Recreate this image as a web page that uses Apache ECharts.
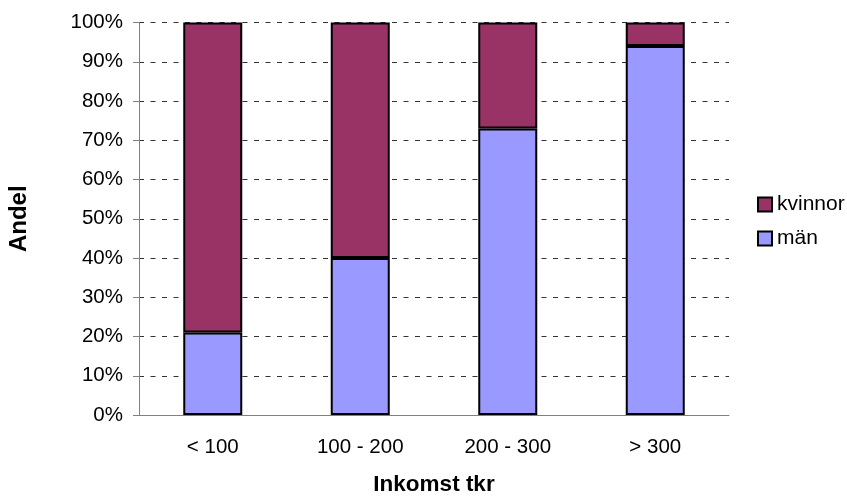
<!DOCTYPE html>
<html>
<head>
<meta charset="utf-8">
<script src="https://cdn.jsdelivr.net/npm/echarts@6/dist/echarts.min.js"></script>
<style>
  html, body { margin: 0; padding: 0; background: #fff; }
  #chart { width: 847px; height: 496px; }
</style>
</head>
<body>
<div id="chart"></div>
<script>
// Income bands (thousand SEK) and share of men / women in each band (%)
const categories = ['< 100', '100 - 200', '200 - 300', '> 300'];
const man = [21, 40, 73, 94];
const kvinnor = [79, 60, 27, 6];
const yTicks = [0, 100, 10]; // min, max, step

const FONT = 'Liberation Sans, Arial, sans-serif';
const chart = echarts.init(document.getElementById('chart'));

chart.setOption({
  animation: false,
  backgroundColor: '#ffffff',
  textStyle: { fontFamily: FONT, color: '#000' },
  grid: {
    left: 139, right: 118, top: 22.5, bottom: 81,
    containLabel: false,
    outerBoundsMode: 'none'
  },
  legend: {
    data: ['kvinnor', 'män'],
    orient: 'vertical',
    left: 757,
    top: 194,
    padding: 0,
    itemWidth: 14,
    itemHeight: 14,
    itemGap: 13,
    icon: 'rect',
    textStyle: { fontFamily: FONT, fontSize: 21, color: '#000' },
    itemStyle: { borderColor: '#000', borderWidth: 2 }
  },
  xAxis: {
    type: 'category',
    data: categories,
    name: 'Inkomst tkr',
    nameLocation: 'middle',
    nameGap: 58,
    nameTextStyle: { fontFamily: FONT, fontSize: 22.5, fontWeight: 'bold', color: '#000' },
    axisLine: { lineStyle: { color: '#808080', width: 1 } },
    axisTick: { length: 6, lineStyle: { color: '#808080' } },
    axisLabel: { fontFamily: FONT, fontSize: 20.5, color: '#000', margin: 22 },
    splitLine: { show: false }
  },
  yAxis: {
    type: 'value',
    min: yTicks[0],
    max: yTicks[1],
    interval: yTicks[2],
    name: 'Andel',
    nameLocation: 'middle',
    nameGap: 108,
    nameRotate: 90,
    nameTextStyle: { fontFamily: FONT, fontSize: 24, fontWeight: 'bold', color: '#000' },
    axisLine: { show: true, lineStyle: { color: '#808080', width: 1 } },
    axisTick: { show: true, inside: false, length: 6, lineStyle: { color: '#808080' } },
    axisLabel: { fontFamily: FONT, fontSize: 20.5, color: '#000', margin: 16, formatter: '{value}%' },
    splitLine: { show: true, lineStyle: { color: '#333', type: [5, 6.5], width: 1 } }
  },
  series: [
    {
      name: 'män',
      type: 'bar',
      stack: 'andel',
      data: man,
      barWidth: 59,
      itemStyle: { color: '#9999FF', borderColor: '#000', borderWidth: 2 }
    },
    {
      name: 'kvinnor',
      type: 'bar',
      stack: 'andel',
      data: kvinnor,
      barWidth: 59,
      itemStyle: { color: '#993366', borderColor: '#000', borderWidth: 2 }
    }
  ]
});
</script>
</body>
</html>
